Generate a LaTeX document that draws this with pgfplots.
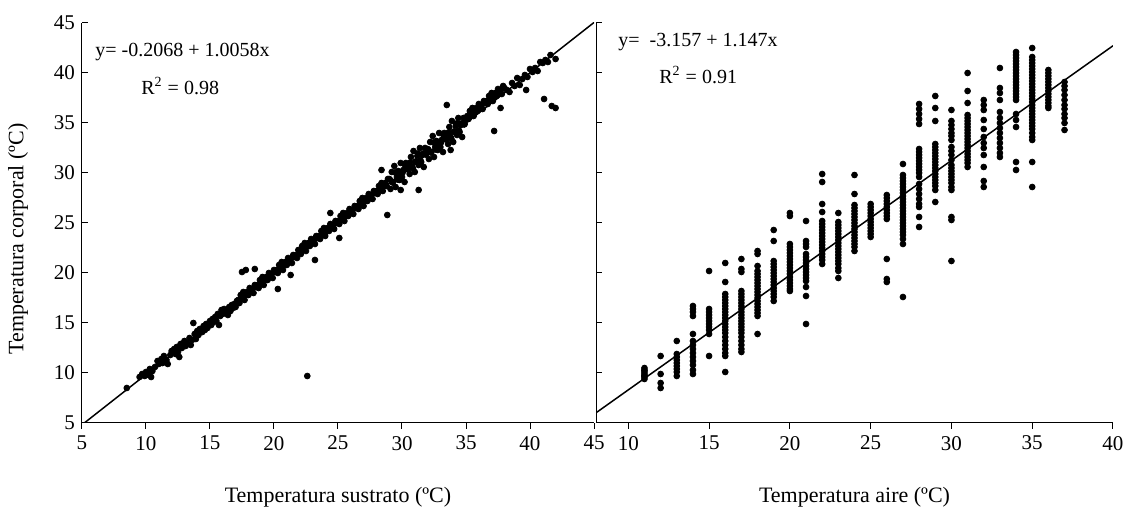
\documentclass[border=0pt]{standalone}
\usepackage{fontspec}
\setmainfont{Liberation Serif}
\usepackage{pgfplots}
\pgfplotsset{compat=1.18}

\begin{document}
\begin{tikzpicture}
\useasboundingbox (0,0) rectangle (563pt,257pt);
\pgfplotsset{
  myaxis/.style={
    scale only axis, height=200pt,
    ymin=5, ymax=45, ytick={5,10,...,45},
    axis x line*=bottom, axis y line*=left,
    xtick align=outside, ytick align=inside,
    major tick length=3pt,
    axis line style={black, line width=0.5pt},
    tick style={black, line width=0.5pt},
    tick label style={font=\fontsize{10.5}{12}\selectfont},
    /pgf/number format/assume math mode=true,
    label style={font=\fontsize{11}{13}\selectfont},
    xlabel style={at={(axis description cs:0.5,-0.185)}, anchor=center},
    scatter/.style={only marks, mark=*, mark size=1.45pt, mark options={draw=black, fill=black}},
  }
}
% ---------------- left panel ----------------
\begin{axis}[myaxis, at={(41pt,45.5pt)}, anchor=south west, width=256pt,
  xmin=5, xmax=45, xtick={5,10,...,45},
  xlabel={Temperatura sustrato (ºC)},
  ylabel={Temperatura corporal (ºC)},
  ylabel style={at={(axis description cs:-0.125,0.46)}, anchor=center}]
\addplot[scatter] coordinates {
(8.5,8.5) (9.5,9.6) (9.7,9.9) (9.9,9.7) (10.0,10.1) (10.2,9.8) (10.3,10.4) (10.4,9.6) (10.5,10.2)
(10.7,10.6) (10.9,11.2) (11.0,10.9) (11.2,11.4) (11.3,11.0) (11.4,11.7) (11.6,11.3) (11.7,10.9)
(11.9,11.8) (12.0,12.2)
(12.2,12.4) (12.3,11.9) (12.4,12.6) (12.5,12.1) (12.6,11.6) (12.7,12.9) (12.8,12.5) (13.0,13.2)
(13.1,12.7) (13.2,13.0) (13.4,13.5) (13.5,12.8) (13.6,13.3) (13.7,15.0) (13.8,13.9) (13.9,13.4)
(14.0,14.2) (14.1,13.8) (14.2,14.4) (14.4,14.1) (14.5,14.7) (14.6,14.3) (14.7,14.9) (14.8,14.5)
(15.0,15.2) (15.1,14.8) (15.2,15.4) (15.3,15.1) (15.4,15.6) (15.5,15.2) (15.6,15.9) (15.7,14.8)
(15.8,15.7) (15.9,16.3) (16.0,15.9) (16.1,16.4) (16.2,16.0) (16.3,16.2) (16.4,15.8) (16.5,16.6)
(16.6,16.2) (16.7,16.8) (16.8,16.5) (16.9,16.9) (17.0,16.6) (17.1,17.2)
(17.2,17.3) (17.3,17.0) (17.4,17.8) (17.5,17.4) (17.6,18.1) (17.7,17.3) (17.8,17.8) (17.9,18.1)
(18.0,17.8) (18.1,18.5) (18.2,18.1) (18.3,18.4) (18.4,18.0) (18.5,18.8) (18.6,18.6) (18.7,18.8)
(18.8,18.5) (18.9,19.3) (19.0,18.9) (19.1,19.6) (19.2,18.8) (19.3,19.3) (19.4,19.6) (19.5,19.3)
(19.6,20.0) (19.7,19.6) (19.8,19.9) (19.9,19.5) (20.0,20.3) (20.1,20.1) (20.2,20.3) (20.3,20.0)
(20.4,20.8) (20.5,20.4) (20.6,21.1) (20.7,20.3) (20.8,20.8) (20.9,21.1) (21.0,20.8) (21.1,21.5)
(21.2,21.1) (21.3,21.4) (21.4,21.0) (21.5,21.8) (21.6,21.6) (21.7,21.8) (21.8,21.5) (21.9,22.3)
(17.5,20.1) (17.8,20.3) (18.5,20.4) (20.3,18.4) (21.3,19.8)
(22.0,22.2) (22.1,21.9) (22.2,22.7) (22.3,22.3) (22.4,23.0) (22.5,22.2) (22.6,22.7) (22.7,23.0)
(22.8,22.7) (22.9,23.4) (23.0,23.0) (23.1,23.3) (23.2,22.9) (23.3,23.7) (23.4,23.5) (23.5,23.7)
(23.6,23.4) (23.7,24.2) (23.8,23.8) (23.9,24.5) (24.0,23.7) (24.1,24.2) (24.2,24.5) (24.3,24.2)
(24.4,24.9) (24.5,24.5) (24.6,24.8) (24.7,24.4) (24.8,25.2) (24.9,25.0) (25.0,25.2) (25.1,24.9)
(25.2,25.7) (25.3,25.3) (25.4,26.0) (25.5,25.2) (25.6,25.7) (25.7,26.0) (25.8,25.7) (25.9,26.4)
(26.0,26.0) (26.1,26.3) (26.2,25.9) (26.3,26.7) (26.4,26.5) (26.5,26.7) (26.6,26.4) (26.7,27.2)
(26.8,26.8) (26.9,27.5) (27.0,26.7) (27.1,27.2) (27.2,27.5) (27.3,27.2) (27.4,27.9) (27.5,27.5)
(27.6,27.8) (27.7,27.4) (27.8,28.2) (27.9,28.0) (28.0,28.2) (28.1,27.9) (28.2,28.7) (28.3,28.3)
(28.4,29.0) (28.5,28.2) (28.6,28.7) (28.7,29.0) (28.8,28.7) (28.9,29.4)
(23.2,21.3) (25.1,23.5) (28.85,25.8) (28.4,30.3) (24.4,26.0)
(29.0,29.4) (29.1,28.4) (29.2,30.1) (29.3,29.1) (29.4,30.7) (29.5,28.6) (29.6,29.6) (29.7,30.2)
(29.8,29.3) (29.9,31.0) (30.0,29.6) (30.1,30.3) (30.2,29.1) (30.3,31.0) (30.4,30.4) (30.5,30.9)
(30.6,29.9) (30.7,31.6) (30.8,30.6) (30.9,32.2) (31.0,30.1) (31.1,31.1) (31.2,31.7) (31.3,30.8)
(31.4,32.5) (31.5,31.1) (31.6,31.8) (31.7,30.6) (31.8,32.5) (31.9,31.9) (32.0,32.4) (32.1,31.4)
(32.2,33.1) (32.3,32.1) (32.4,33.7) (32.5,31.6) (32.6,32.6) (32.7,33.2) (32.8,32.3) (32.9,34.0)
(33.0,32.6) (33.1,33.3) (33.2,32.1) (33.3,34.0) (33.4,33.4) (33.5,33.9) (33.6,32.9) (33.7,34.6)
(33.8,33.6) (33.9,35.2) (34.0,33.1) (34.1,34.1) (34.2,34.7) (34.3,33.8) (34.4,35.5) (34.5,34.1)
(34.6,34.8) (34.7,33.6) (34.8,35.5) (34.9,34.9) (35.0,35.4)
(29.05,29.35) (29.25,29.05) (29.45,30.05) (29.65,29.35) (29.85,30.05) (30.05,30.05) (30.25,30.75)
(30.45,30.35) (30.65,31.05) (30.85,30.45) (31.05,31.15) (31.25,31.95) (31.45,31.25) (31.65,31.95)
(31.85,31.85) (32.05,32.35) (32.25,32.05) (32.45,33.05) (32.65,32.35) (32.85,33.05) (33.05,33.05)
(33.25,33.75) (33.45,33.35) (33.65,34.05) (33.85,33.45) (34.05,34.15) (34.25,34.95) (34.45,34.25)
(34.65,34.95) (34.85,34.85)
(29.9,28.3) (31.3,28.3) (33.5,36.8) (33.8,32.3)
(35.1,35.7) (35.2,35.4) (35.3,36.2) (35.4,35.8) (35.5,36.5) (35.6,35.7) (35.7,36.2) (35.8,36.5)
(35.9,36.2) (36.0,36.9) (36.1,36.5) (36.2,36.8) (36.3,36.4) (36.4,37.2) (36.5,37.0) (36.6,37.2)
(36.7,36.9) (36.8,37.7) (36.9,37.3) (37.0,38.0) (37.1,37.2) (37.2,37.7) (37.3,38.0) (37.4,37.7)
(37.5,38.4) (37.6,38.0) (37.7,38.3) (37.8,37.9) (37.9,38.7) (38.0,38.5)
(38.2,38.3) (38.4,38.1) (38.6,39.0) (38.8,38.7) (39.0,39.5) (39.2,38.8) (39.4,39.4) (39.6,39.8)
(39.8,39.6) (40.0,40.4) (40.2,40.1) (40.4,40.5) (40.6,40.2) (40.8,41.1) (41.0,41.0) (41.2,41.3)
(41.4,41.1) (41.6,41.8) (42.0,41.4)
(39.7,38.3) (37.2,34.2) (37.7,36.5) (41.1,37.4) (41.7,36.7) (42.0,36.5)
(22.6,9.7)
};
\addplot[black, line width=0.75pt] coordinates {(5,4.82) (45,45.05)};
\end{axis}
% ---------------- right panel ----------------
\begin{axis}[myaxis, at={(298pt,45.5pt)}, anchor=south west, width=258.5pt,
  xmin=8, xmax=40, xtick={10,15,...,40}, yticklabels={},
  xlabel={Temperatura aire (ºC)}]
\addplot[scatter] coordinates {
(11,9.4) (11,9.6) (11,9.8) (11,10.0) (11,10.2) (11,10.5) (11,9.7) (11,10.3)
(12,11.7) (12,9.9) (12,9.0) (12,8.5)
(13,13.2) (13,11.9) (13,11.6) (13,11.3) (13,11.0) (13,10.7) (13,10.4) (13,10.1) (13,9.7)
(14,16.7) (14,16.4) (14,16.1) (14,15.7) (14,13.9) (14,13.2) (14,12.8) (14,12.4) (14,12.0) (14,11.6) (14,11.2) (14,10.8) (14,10.3) (14,9.9)
(15,20.2) (15,16.4) (15,16.1) (15,15.8) (15,15.5) (15,15.2) (15,14.9) (15,14.6) (15,14.3) (15,13.9) (15,11.7)
(16,21.0) (16,19.1) (16,17.9) (16,17.6) (16,17.3) (16,17.0) (16,16.7) (16,16.4) (16,16.1) (16,15.8) (16,15.5) (16,15.2)
(16,14.9) (16,14.6) (16,14.3) (16,14.0) (16,13.6) (16,13.2) (16,12.8) (16,12.4) (16,12.0) (16,11.7) (16,10.1)
(17,21.4) (17,20.4) (17,20.1) (17,18.2) (17,17.9) (17,17.6) (17,17.3) (17,17.0) (17,16.7) (17,16.4) (17,16.1) (17,15.8)
(17,15.5) (17,15.2) (17,14.9) (17,14.6) (17,14.3) (17,14.0) (17,13.6) (17,13.2) (17,12.8) (17,12.4) (17,12.1)
(18,22.2) (18,21.9) (18,20.7) (18,20.2) (18,19.9) (18,19.6) (18,19.3) (18,19.0) (18,18.7) (18,18.4) (18,18.1) (18,17.8)
(18,17.5) (18,17.2) (18,16.9) (18,16.6) (18,16.3) (18,16.0) (18,15.7) (18,13.9)
(19,24.3) (19,23.2) (19,21.2) (19,20.9) (19,20.6) (19,20.3) (19,20.0) (19,19.7) (19,19.4) (19,19.1) (19,18.8) (19,18.5)
(19,18.2) (19,17.9) (19,17.6) (19,17.2)
(20,26.0) (20,25.7) (20,22.9) (20,22.6) (20,22.3) (20,22.0) (20,21.7) (20,21.4) (20,21.1) (20,20.8) (20,20.5) (20,20.2)
(20,19.9) (20,19.6) (20,19.3) (20,19.0) (20,18.7) (20,18.4) (20,18.2)
(21,25.2) (21,23.2) (21,22.9) (21,22.6) (21,21.9) (21,21.6) (21,21.3) (21,21.0) (21,20.7) (21,20.4) (21,20.1) (21,19.8)
(21,19.5) (21,19.2) (21,18.6) (21,17.7) (21,14.9)
(22,29.9) (22,29.1) (22,26.9) (22,26.1) (22,25.2) (22,24.9) (22,24.6) (22,24.3) (22,24.0) (22,23.7) (22,23.4) (22,23.1)
(22,22.8) (22,22.5) (22,22.2) (22,21.9) (22,21.6) (22,21.3) (22,20.9)
(23,26.0) (23,25.1) (23,24.8) (23,24.5) (23,24.2) (23,23.9) (23,23.6) (23,23.3) (23,23.0) (23,22.7) (23,22.4) (23,22.1)
(23,21.8) (23,21.5) (23,21.2) (23,20.9) (23,20.5) (23,20.2) (23,19.5)
(24,29.8) (24,27.9) (24,26.8) (24,26.5) (24,26.2) (24,25.9) (24,25.6) (24,25.3) (24,25.0) (24,24.7) (24,24.4) (24,24.1)
(24,23.8) (24,23.5) (24,23.2) (24,22.9) (24,22.6) (24,22.2)
(25,26.9) (25,26.6) (25,26.3) (25,26.0) (25,25.7) (25,25.4) (25,25.1) (25,24.8) (25,24.5) (25,24.2) (25,23.9) (25,23.6)
(26,27.8) (26,27.5) (26,27.2) (26,26.9) (26,26.6) (26,26.3) (26,26.0) (26,25.7) (26,25.4) (26,21.4) (26,19.4) (26,19.1)
(27,30.9) (27,29.8) (27,29.5) (27,29.2) (27,28.9) (27,28.6) (27,28.3) (27,28.0) (27,27.7) (27,27.4) (27,27.1) (27,26.8)
(27,26.5) (27,26.2) (27,25.9) (27,25.6) (27,25.3) (27,25.0) (27,24.7) (27,24.4) (27,24.1) (27,23.8) (27,23.4) (27,22.9) (27,17.6)
(28,36.9) (28,36.4) (28,35.9) (28,35.4) (28,34.9) (28,32.4) (28,32.1) (28,31.8) (28,31.5) (28,31.2) (28,30.9) (28,30.6)
(28,30.3) (28,30.0) (28,29.6) (28,28.9) (28,28.4) (28,27.9) (28,27.4) (28,26.9) (28,26.6) (28,25.6) (28,24.6)
(29,37.7) (29,36.5) (29,35.2) (29,32.9) (29,32.6) (29,32.3) (29,32.0) (29,31.7) (29,31.4) (29,31.1) (29,30.8) (29,30.5)
(29,30.2) (29,29.9) (29,29.6) (29,29.3) (29,29.0) (29,28.7) (29,28.3) (29,27.1)
(30,36.3) (30,35.2) (30,34.8) (30,34.4) (30,34.0) (30,33.7) (30,33.3) (30,32.6) (30,32.2) (30,31.8) (30,31.3) (30,30.8)
(30,30.5) (30,30.2) (30,29.9) (30,29.6) (30,29.3) (30,29.0) (30,28.6) (30,28.3) (30,25.6) (30,25.3) (30,21.2)
(31,40.0) (31,38.2) (31,37.0) (31,35.8) (31,35.5) (31,35.2) (31,34.9) (31,34.6) (31,34.3) (31,34.0) (31,33.7) (31,33.4)
(31,33.1) (31,32.8) (31,32.5) (31,32.2) (31,31.9) (31,31.6) (31,31.3) (31,31.0) (31,30.6)
(32,37.3) (32,36.8) (32,36.3) (32,35.3) (32,34.4) (32,33.6) (32,33.0) (32,32.5) (32,31.8) (32,30.6) (32,29.2) (32,28.6)
(33,40.5) (33,38.5) (33,38.0) (33,37.3) (33,36.1) (33,35.5) (33,35.0) (33,34.5) (33,34.0) (33,33.5) (33,33.0) (33,32.5) (33,32.0) (33,31.6)
(34,42.1) (34,41.8) (34,41.5) (34,41.2) (34,40.9) (34,40.6) (34,40.3) (34,40.0) (34,39.7) (34,39.4) (34,39.1) (34,38.8)
(34,38.5) (34,38.2) (34,37.9) (34,37.6) (34,37.3) (34,35.9) (34,35.3) (34,34.6) (34,31.1) (34,30.3)
(35,42.5) (35,41.6) (35,41.3) (35,41.0) (35,40.7) (35,40.4) (35,40.1) (35,39.8) (35,39.5) (35,39.2) (35,38.9) (35,38.6)
(35,38.3) (35,38.0) (35,37.7) (35,37.4) (35,37.1) (35,36.8) (35,36.5) (35,36.2) (35,35.9) (35,35.6) (35,35.3) (35,35.0)
(35,34.7) (35,34.4) (35,34.0) (35,33.6) (35,33.3) (35,31.1) (35,28.6)
(36,40.3) (36,40.0) (36,39.7) (36,39.4) (36,39.1) (36,38.8) (36,38.5) (36,38.2) (36,37.9) (36,37.6) (36,37.3) (36,37.0) (36,36.7) (36,36.5)
(37,39.1) (37,38.7) (37,38.3) (37,37.8) (37,37.3) (37,36.8) (37,36.4) (37,35.9) (37,35.5) (37,35.0) (37,34.3)
};
\addplot[black, line width=0.75pt] coordinates {(8,6.019) (40,42.723)};
\end{axis}
% ---------------- equations ----------------
\node[anchor=west, font=\fontsize{10}{12}\selectfont, inner sep=0pt] at (47.5pt,231pt) {y= -0.2068 + 1.0058x};
\node[anchor=west, font=\fontsize{10}{12}\selectfont, inner sep=0pt] at (70.5pt,214pt) {R\textsuperscript{2} = 0.98};
\node[anchor=west, font=\fontsize{10}{12}\selectfont, inner sep=0pt] at (309pt,236pt) {y=\ \ -3.157 + 1.147x};
\node[anchor=west, font=\fontsize{10}{12}\selectfont, inner sep=0pt] at (329.5pt,219.5pt) {R\textsuperscript{2} = 0.91};
\end{tikzpicture}
\end{document}
